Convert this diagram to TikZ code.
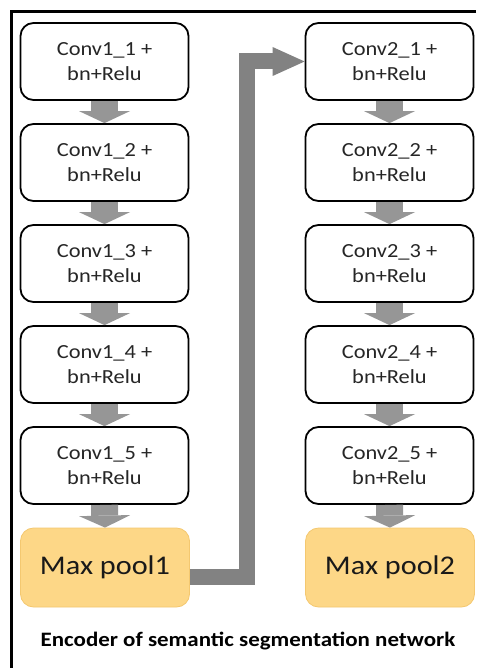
\documentclass[tikz,border=0pt]{standalone}
\usepackage{fontspec}
\setmainfont{Carlito}[FakeStretch=1.12]
\usepackage{tikz}
\usetikzlibrary{arrows.meta}
\definecolor{poolfill}{RGB}{253,215,135}
\definecolor{pooledge}{RGB}{244,200,112}
\definecolor{arrowgray}{RGB}{150,150,150}
\definecolor{linkgray}{RGB}{130,130,130}
\tikzset{
	convbox/.style={draw=black, line width=1.8pt, rounded corners=13pt, fill=white,
		minimum width=168pt, minimum height=77pt, inner sep=0pt, align=center,
		text=black!85, font=\fontsize{20}{25}\selectfont},
	poolbox/.style={draw=pooledge, line width=0.8pt, rounded corners=13pt, fill=poolfill,
		minimum width=169pt, minimum height=79pt, inner sep=0pt,
		text=black!90, font=\fontsize{27}{30}\selectfont},
	downarrow/.style={line width=27pt, arrowgray, -{Triangle[length=12pt,width=51pt,line width=0pt]}},
	skiparrow/.style={line width=16pt, linkgray, line join=miter, -{Triangle[length=32pt,width=29pt,line width=0pt]}}
}

\begin{document}
\begin{tikzpicture}[x=1pt,y=-1pt]
	\useasboundingbox (0,0) rectangle (476,668);
	\fill[white] (0,0) rectangle (476,668);
	\draw[line width=3pt] (476,11.5) -- (11.5,11.5) -- (11.5,668);
	
	% first block
	\node[convbox] (c11) at (104.5,61.5) {Conv1\_1 +\\bn+Relu};
	\node[convbox] (c12) at (104.5,162.5) {Conv1\_2 +\\bn+Relu};
	\node[convbox] (c13) at (104.5,263.5) {Conv1\_3 +\\bn+Relu};
	\node[convbox] (c14) at (104.5,364.5) {Conv1\_4 +\\bn+Relu};
	\node[convbox] (c15) at (104.5,465.5) {Conv1\_5 +\\bn+Relu};
	\node[poolbox] (pool1) at (105,567.5) {Max pool1};
	
	% second block
	\node[convbox] (c21) at (389.5,61.5) {Conv2\_1 +\\bn+Relu};
	\node[convbox] (c22) at (389.5,162.5) {Conv2\_2 +\\bn+Relu};
	\node[convbox] (c23) at (389.5,263.5) {Conv2\_3 +\\bn+Relu};
	\node[convbox] (c24) at (389.5,364.5) {Conv2\_4 +\\bn+Relu};
	\node[convbox] (c25) at (389.5,465.5) {Conv2\_5 +\\bn+Relu};
	\node[poolbox] (pool2) at (390,567.5) {Max pool2};
	
	\draw[downarrow] (c11.south) -- (c12.north);
	\draw[downarrow] (c12.south) -- (c13.north);
	\draw[downarrow] (c13.south) -- (c14.north);
	\draw[downarrow] (c14.south) -- (c15.north);
	\draw[downarrow] (c15.south) -- (pool1.north);
	
	\draw[downarrow] (c21.south) -- (c22.north);
	\draw[downarrow] (c22.south) -- (c23.north);
	\draw[downarrow] (c23.south) -- (c24.north);
	\draw[downarrow] (c24.south) -- (c25.north);
	\draw[downarrow] (c25.south) -- (pool2.north);
	
	\coordinate (turn) at (246.5,300);
	\draw[skiparrow] ([yshift=-9pt]pool1.east) -| (turn) |- (c21.west);
	
	\node (title) at (248,641) {\fontsize{20.5}{24}\selectfont\bfseries Encoder of semantic segmentation network};
\end{tikzpicture}
\end{document}
